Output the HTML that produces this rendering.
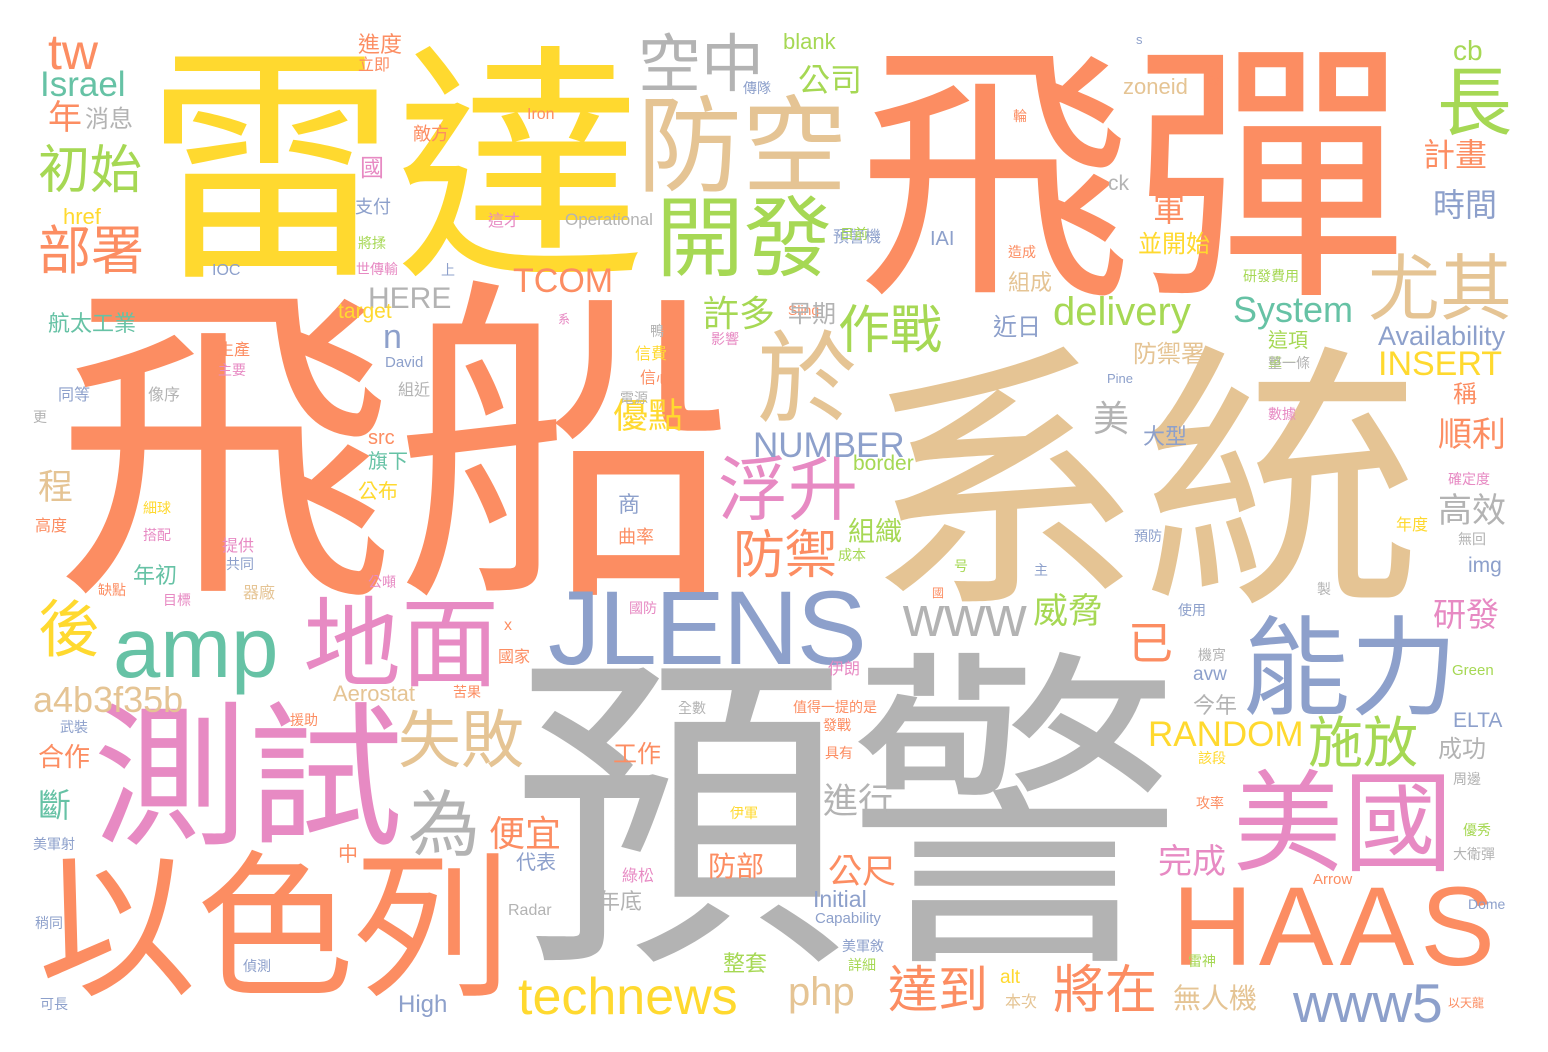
<!DOCTYPE html>
<html><head><meta charset="utf-8">
<style>
html,body{margin:0;padding:0;background:#fff;}
#cloud{position:relative;width:1548px;height:1052px;overflow:hidden;background:#fff;}
#cloud span{position:absolute;white-space:nowrap;line-height:1;font-family:"Liberation Sans","Noto Sans CJK TC",sans-serif;}
</style></head>
<body>
<div id="cloud"></div>
<script>
const O='#fc8d62',T='#e5c494',G='#b3b3b3',Y='#ffd92f',P='#e78ac3',B='#8da0cb',N='#a6d854',E='#66c2a5';
// [text, left, top, fontSize, color, letterSpacing]
const words=[
['飛船',55,246,340,O],
['系統',865,317,278,T],
['預警',512,617,335,G],
['飛彈',857,13,275,O],
['雷達',145,20,250,Y],
['以色列',38,834,158,O],
['測試',93,685,155,P],
['美國',1233,759,110,P],
['能力',1242,604,108,B],
['地面',303,585,98,P],
['防空',637,84,105,T],
['開發',656,186,88,N],
['空中',638,28,63,G],
['於',757,320,100,T],
['長',1437,58,75,N],
['尤其',1368,247,72,T],
['浮升',718,448,70,P],
['防禦',733,525,52,O],
['失敗',398,704,63,T],
['為',408,783,72,G],
['後',38,594,62,Y],
['初始',38,140,52,N],
['部署',38,220,53,O],
['作戰',838,300,52,N],
['施放',1308,710,55,N],
['已',1128,616,45,O],
['將在',1053,960,52,O],
['達到',888,960,50,O],
['JLENS',548,571,105,B,-2],
['HAAS',1172,865,112,O,6],
['amp',113,602,85,E],
['technews',518,968,52,Y],
['www5',1293,973,55,B],
['delivery',1053,290,40,N],
['System',1233,290,36,E],
['TCOM',513,262,34,O],
['www',903,586,57,G],
['RANDOM',1148,715,35,Y],
['a4b3f35b',33,680,36,T],
['tw',48,24,50,O],
['Israel',40,65,35,E],
['INSERT',1378,345,34,Y],
['NUMBER',753,426,35,B],
['Availability',1378,322,27,B],
['HERE',368,282,30,G],
['php',788,970,40,T],
['target',338,300,21,Y],
['n',383,318,34,B],
['border',853,452,21,N],
['Aerostat',333,682,22,T],
['blank',783,30,22,N],
['zoneid',1123,75,22,T],
['cb',1453,36,28,N],
['High',398,992,24,B],
['Initial',813,887,23,B],
['ELTA',1453,709,21,B],
['img',1468,554,21,B],
['avw',1193,664,19,B],
['src',368,427,20,O],
['Radar',508,902,16,G],
['Operational',565,210,17,G],
['IAI',930,228,20,B],
['ck',1108,172,21,G],
['href',63,205,22,Y],
['IOC',212,262,16,B],
['Iron',527,106,16,O],
['David',385,354,15,B],
['Pine',1107,371,13,B],
['Green',1452,662,15,N],
['Arrow',1313,871,15,O],
['Dome',1468,896,14,B],
['Capability',815,910,15,B],
['alt',1000,967,19,Y],
['x',504,617,16,O],
['Sling',788,302,14,O],
['s',1136,32,13,B],
['便宜',489,812,36,O],
['完成',1158,842,34,P],
['公尺',828,852,34,O],
['無人機',1173,982,28,T],
['美',1093,397,36,G],
['許多',703,292,36,N],
['公司',798,61,32,N],
['計畫',1423,136,32,O],
['時間',1433,186,32,B],
['軍',1153,191,32,O],
['並開始',1138,231,24,Y],
['順利',1438,415,34,O],
['高效',1438,491,34,G],
['研發',1433,595,33,P],
['稱',1453,381,24,O],
['優點',613,395,35,Y],
['組織',848,516,27,N],
['威脅',1033,590,35,N],
['早期',788,301,24,G],
['近日',993,314,24,B],
['防禦署',1133,341,24,T],
['進行',823,780,35,G],
['程',38,466,35,T],
['斷',38,786,33,E],
['合作',38,741,26,O],
['年',48,98,34,O],
['消息',85,106,24,G],
['防部',708,850,28,O],
['工作',613,741,24,O],
['年底',598,889,22,G],
['整套',723,951,22,N],
['成功',1438,736,24,G],
['今年',1193,693,22,G],
['旗下',368,450,20,E],
['公布',358,480,20,Y],
['年初',133,563,22,E],
['代表',516,851,20,B],
['大型',1143,424,22,B],
['這項',1268,329,20,N],
['中',338,843,20,O],
['進度',358,32,22,O],
['立即',358,56,16,O],
['傳隊',743,80,14,B],
['敵方',413,123,18,O],
['國',360,155,24,P],
['支付',355,196,18,B],
['這才',488,212,16,P],
['將揉',358,235,14,N],
['世傳輸',356,261,14,P],
['上',441,262,14,B],
['航太工業',48,311,22,E],
['生產',218,341,16,O],
['主要',218,362,14,P],
['同等',58,386,16,B],
['像序',148,386,16,G],
['組近',398,381,16,G],
['更',33,409,14,G],
['商',618,492,22,B],
['曲率',618,526,18,O],
['預警機',833,228,16,B],
['目前',840,226,14,N],
['研發費用',1243,268,14,N],
['組成',1008,270,22,T],
['造成',1008,244,14,O],
['影響',711,331,14,P],
['信費',635,345,16,Y],
['信心',640,369,16,O],
['單一',1268,355,14,N],
['數據',1268,406,14,P],
['電源',620,390,14,G],
['整一條',1268,355,14,G],
['確定度',1448,471,14,P],
['年度',1396,516,16,Y],
['無回',1458,531,14,G],
['預防',1134,528,14,B],
['成本',838,547,14,N],
['主',1034,562,14,B],
['國',932,586,12,O],
['製',1317,581,14,G],
['使用',1178,602,14,B],
['伊朗',828,660,16,P],
['機宵',1198,647,14,G],
['國防',629,600,14,P],
['國家',498,648,16,O],
['值得一提的是',793,699,14,O],
['發戰',823,717,14,O],
['全數',678,700,14,G],
['具有',825,745,14,O],
['該段',1198,750,14,Y],
['攻率',1196,795,14,O],
['美軍射',33,836,14,B],
['優秀',1463,822,14,N],
['大衛彈',1453,846,14,G],
['美軍敘',842,938,14,B],
['詳細',848,957,14,N],
['雷神',1188,953,14,N],
['本次',1005,993,16,T],
['以天龍',1448,996,12,O],
['可長',40,996,14,B],
['偵測',243,958,14,B],
['稍同',35,915,14,B],
['綠松',622,867,16,P],
['援助',290,712,14,O],
['苦果',453,684,14,O],
['武裝',60,719,14,B],
['器廠',243,584,16,T],
['目標',163,592,14,P],
['提供',222,537,16,P],
['共同',226,556,14,B],
['搭配',143,527,14,P],
['細球',143,500,14,Y],
['高度',35,517,16,O],
['缺點',98,582,14,O],
['公噸',368,574,14,P],
['周邊',1453,771,14,G],
['伊軍',730,805,14,Y],
['号',954,558,14,N],
['較',1206,73,14,O],
['輪',1013,108,14,O],
['鴨',650,323,14,G],
['系',558,312,12,P]
];
const cjk=/[\u3400-\u9fff]/;
const cloud=document.getElementById('cloud');
words.forEach(function(w,i){
  const el=document.createElement('span');
  el.textContent=w[0];
  const shift=cjk.test(w[0])?0.1*w[3]:0.05*w[3];
  el.style.left=w[1]+'px';
  el.style.top=(w[2]+shift)+'px';
  el.style.fontSize=w[3]+'px';
  el.style.color=w[4];
  if(w[5])el.style.letterSpacing=w[5]+'px';
  
  
  cloud.appendChild(el);
});
</script>
</body></html>
